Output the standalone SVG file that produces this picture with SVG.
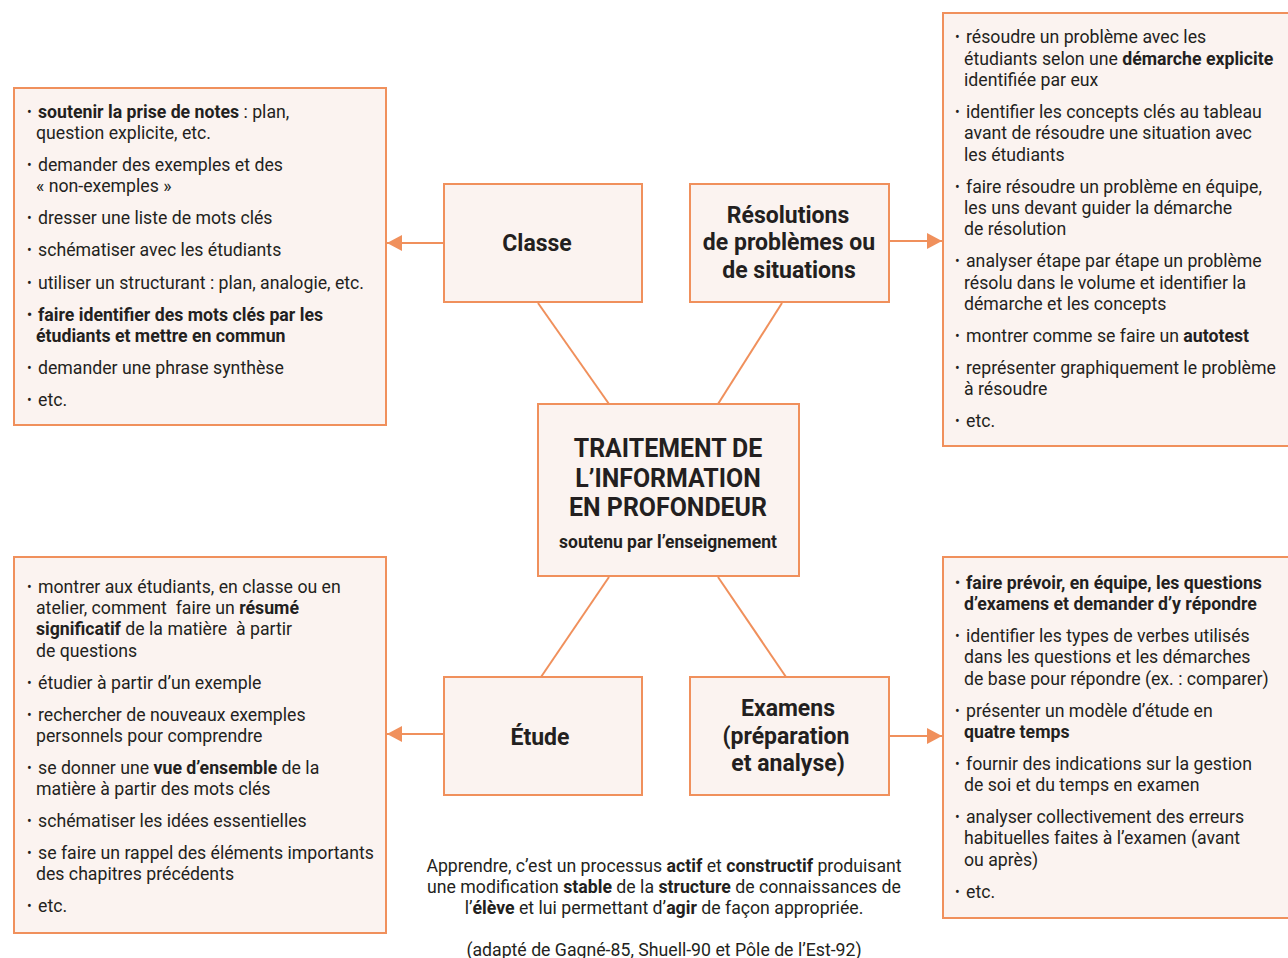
<svg xmlns="http://www.w3.org/2000/svg" width="1288" height="958" viewBox="0 0 1288 958">
<defs>
<style>
.box{fill:#fbf3f0;stroke:#f0905c;stroke-width:2}
.con{stroke:#f0905c;stroke-width:2;fill:none}
text{font-family:Roboto,"Liberation Sans",sans-serif;fill:#231f20}
.t{font-size:17.7px}
.b{font-weight:700}
.bu{font-size:14px}
.node{font-size:23px;font-weight:700;text-anchor:middle}
.main{font-size:24.9px;font-weight:700;text-anchor:middle}
.foot{font-size:17.7px;text-anchor:middle}
</style>
<marker id="ah" markerUnits="userSpaceOnUse" markerWidth="16" markerHeight="18" refX="15" refY="8" orient="auto">
<path d="M0,0 L15,8 L0,16 z" fill="#f0905c"/>
</marker>
</defs>
<rect width="1288" height="958" fill="#ffffff"/>

<g id="connectors">
<line class="con" x1="444" y1="243" x2="387" y2="243" marker-end="url(#ah)"/>
<line class="con" x1="889" y1="241" x2="942" y2="241" marker-end="url(#ah)"/>
<line class="con" x1="444" y1="734" x2="387" y2="734" marker-end="url(#ah)"/>
<line class="con" x1="889" y1="736" x2="942" y2="736" marker-end="url(#ah)"/>
<line class="con" x1="538" y1="303" x2="609" y2="404"/>
<line class="con" x1="782" y1="303" x2="718" y2="404"/>
<line class="con" x1="609" y1="577" x2="541" y2="677"/>
<line class="con" x1="718" y1="577" x2="786" y2="677"/>
</g>

<g id="list-classe">
<rect class="box" x="14" y="88" width="372" height="337"/>
<text class="t"><tspan class="bu" x="27" y="117">•</tspan><tspan x="38" y="118" class="b">soutenir la prise de notes</tspan><tspan> : plan,</tspan></text>
<text class="t" x="36" y="139">question explicite, etc.</text>
<text class="t"><tspan class="bu" x="27" y="170">•</tspan><tspan x="38" y="171">demander des exemples et des</tspan></text>
<text class="t" x="36" y="192">« non-exemples »</text>
<text class="t"><tspan class="bu" x="27" y="223">•</tspan><tspan x="38" y="224">dresser une liste de mots clés</tspan></text>
<text class="t"><tspan class="bu" x="27" y="255">•</tspan><tspan x="38" y="256">schématiser avec les étudiants</tspan></text>
<text class="t"><tspan class="bu" x="27" y="288">•</tspan><tspan x="38" y="289">utiliser un structurant : plan, analogie, etc.</tspan></text>
<text class="t b"><tspan class="bu" x="27" y="320">•</tspan><tspan x="38" y="321">faire identifier des mots clés par les</tspan></text>
<text class="t b" x="36" y="342">étudiants et mettre en commun</text>
<text class="t"><tspan class="bu" x="27" y="373">•</tspan><tspan x="38" y="374">demander une phrase synthèse</tspan></text>
<text class="t"><tspan class="bu" x="27" y="405">•</tspan><tspan x="38" y="406">etc.</tspan></text>
</g>

<g id="list-resolution">
<rect class="box" x="943" y="13" width="355" height="433"/>
<text class="t"><tspan class="bu" x="955" y="42">•</tspan><tspan x="966" y="43">résoudre un problème avec les</tspan></text>
<text class="t" x="964" y="65">étudiants selon une <tspan class="b">démarche explicite</tspan></text>
<text class="t" x="964" y="86">identifiée par eux</text>
<text class="t"><tspan class="bu" x="955" y="117">•</tspan><tspan x="966" y="118">identifier les concepts clés au tableau</tspan></text>
<text class="t" x="964" y="139">avant de résoudre une situation avec</text>
<text class="t" x="964" y="161">les étudiants</text>
<text class="t"><tspan class="bu" x="955" y="192">•</tspan><tspan x="966" y="193">faire résoudre un problème en équipe,</tspan></text>
<text class="t" x="964" y="214">les uns devant guider la démarche</text>
<text class="t" x="964" y="235">de résolution</text>
<text class="t"><tspan class="bu" x="955" y="266">•</tspan><tspan x="966" y="267">analyser étape par étape un problème</tspan></text>
<text class="t" x="964" y="289">résolu dans le volume et identifier la</text>
<text class="t" x="964" y="310">démarche et les concepts</text>
<text class="t"><tspan class="bu" x="955" y="341">•</tspan><tspan x="966" y="342">montrer comme se faire un </tspan><tspan class="b">autotest</tspan></text>
<text class="t"><tspan class="bu" x="955" y="373">•</tspan><tspan x="966" y="374">représenter graphiquement le problème</tspan></text>
<text class="t" x="964" y="395">à résoudre</text>
<text class="t"><tspan class="bu" x="955" y="426">•</tspan><tspan x="966" y="427">etc.</tspan></text>
</g>

<g id="list-etude">
<rect class="box" x="14" y="557" width="372" height="376"/>
<text class="t"><tspan class="bu" x="27" y="592">•</tspan><tspan x="38" y="593">montrer aux étudiants, en classe ou en</tspan></text>
<text class="t" x="36" y="614" xml:space="preserve">atelier, comment  faire un <tspan class="b">résumé</tspan></text>
<text class="t" x="36" y="635" xml:space="preserve"><tspan class="b">significatif</tspan> de la matière  à partir</text>
<text class="t" x="36" y="657">de questions</text>
<text class="t"><tspan class="bu" x="27" y="688">•</tspan><tspan x="38" y="689">étudier à partir d’un exemple</tspan></text>
<text class="t"><tspan class="bu" x="27" y="720">•</tspan><tspan x="38" y="721">rechercher de nouveaux exemples</tspan></text>
<text class="t" x="36" y="742">personnels pour comprendre</text>
<text class="t"><tspan class="bu" x="27" y="773">•</tspan><tspan x="38" y="774">se donner une </tspan><tspan class="b">vue d’ensemble</tspan><tspan> de la</tspan></text>
<text class="t" x="36" y="795">matière à partir des mots clés</text>
<text class="t"><tspan class="bu" x="27" y="826">•</tspan><tspan x="38" y="827">schématiser les idées essentielles</tspan></text>
<text class="t"><tspan class="bu" x="27" y="858">•</tspan><tspan x="38" y="859">se faire un rappel des éléments importants</tspan></text>
<text class="t" x="36" y="880">des chapitres précédents</text>
<text class="t"><tspan class="bu" x="27" y="911">•</tspan><tspan x="38" y="912">etc.</tspan></text>
</g>

<g id="list-examens">
<rect class="box" x="943" y="557" width="355" height="361"/>
<text class="t b"><tspan class="bu" x="955" y="588">•</tspan><tspan x="966" y="589">faire prévoir, en équipe, les questions</tspan></text>
<text class="t b" x="964" y="610">d’examens et demander d’y répondre</text>
<text class="t"><tspan class="bu" x="955" y="641">•</tspan><tspan x="966" y="642">identifier les types de verbes utilisés</tspan></text>
<text class="t" x="964" y="663">dans les questions et les démarches</text>
<text class="t" x="964" y="685">de base pour répondre (ex. : comparer)</text>
<text class="t"><tspan class="bu" x="955" y="716">•</tspan><tspan x="966" y="717">présenter un modèle d’étude en</tspan></text>
<text class="t b" x="964" y="738">quatre temps</text>
<text class="t"><tspan class="bu" x="955" y="769">•</tspan><tspan x="966" y="770">fournir des indications sur la gestion</tspan></text>
<text class="t" x="964" y="791">de soi et du temps en examen</text>
<text class="t"><tspan class="bu" x="955" y="822">•</tspan><tspan x="966" y="823">analyser collectivement des erreurs</tspan></text>
<text class="t" x="964" y="844">habituelles faites à l’examen (avant</text>
<text class="t" x="964" y="866">ou après)</text>
<text class="t"><tspan class="bu" x="955" y="897">•</tspan><tspan x="966" y="898">etc.</tspan></text>
</g>

<g id="node-classe">
<rect class="box" x="444" y="184" width="198" height="118"/>
<text class="node" x="537" y="251">Classe</text>
</g>

<g id="node-resolutions">
<rect class="box" x="690" y="184" width="199" height="118"/>
<text class="node" x="788" y="223">Résolutions</text>
<text class="node" x="789" y="250">de problèmes ou</text>
<text class="node" x="789" y="278">de situations</text>
</g>

<g id="node-traitement">
<rect class="box" x="538" y="404" width="261" height="172"/>
<text class="main" x="668" y="457">TRAITEMENT DE</text>
<text class="main" x="668" y="487">L’INFORMATION</text>
<text class="main" x="668" y="516">EN PROFONDEUR</text>
<text x="668" y="548" style="font-size:17.5px;font-weight:700;text-anchor:middle">soutenu par l’enseignement</text>
</g>

<g id="node-etude">
<rect class="box" x="444" y="677" width="198" height="118"/>
<text class="node" x="540" y="745">Étude</text>
</g>

<g id="node-examens">
<rect class="box" x="690" y="677" width="199" height="118"/>
<text class="node" x="788" y="716">Examens</text>
<text class="node" x="786" y="744">(préparation</text>
<text class="node" x="788" y="771">et analyse)</text>
</g>

<g id="footnote">
<text class="foot" x="664" y="872">Apprendre, c’est un processus <tspan class="b">actif</tspan> et <tspan class="b">constructif</tspan> produisant</text>
<text class="foot" x="664" y="893">une modification <tspan class="b">stable</tspan> de la <tspan class="b">structure</tspan> de connaissances de</text>
<text class="foot" x="664" y="914">l’<tspan class="b">élève</tspan> et lui permettant d’<tspan class="b">agir</tspan> de façon appropriée.</text>
<text class="foot" x="664" y="956">(adapté de Gagné-85, Shuell-90 et Pôle de l’Est-92)</text>
</g>
</svg>
